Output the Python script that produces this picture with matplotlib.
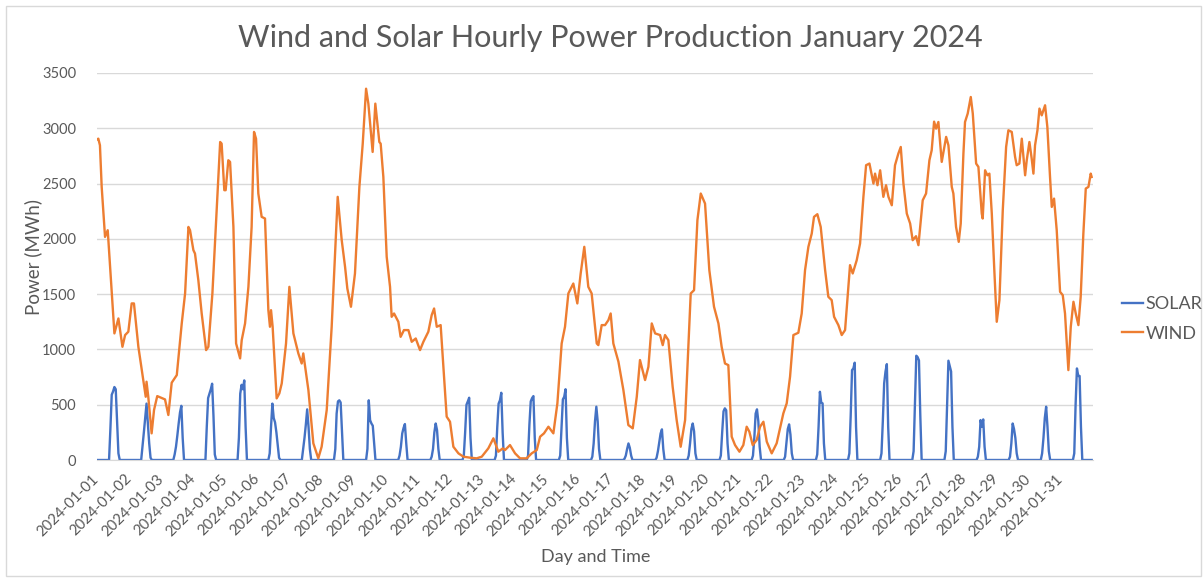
import numpy as np
import matplotlib.pyplot as plt
from matplotlib.patches import Rectangle

# tick labels, one per day
days = ["2024-01-%02d" % d for d in range(1, 32)]

# solar output per day for the hours 09..16 (other hours are zero)
solar_first_hour = 9
solar_by_day = [
    [0, 280, 590, 620, 660, 640, 350, 60],
    [0, 120, 250, 380, 510, 330, 150, 20],
    [0, 50, 120, 220, 330, 430, 490, 200],
    [0, 300, 560, 600, 640, 690, 400, 50],
    [0, 200, 600, 680, 640, 720, 300, 0],
    [60, 300, 510, 380, 340, 250, 130, 20],
    [0, 100, 200, 320, 458, 300, 100, 0],
    [0, 100, 420, 530, 540, 520, 250, 0],
    [0, 100, 540, 360, 330, 310, 150, 0],
    [0, 40, 120, 240, 290, 325, 150, 0],
    [0, 30, 100, 250, 330, 270, 100, 0],
    [0, 40, 250, 500, 530, 563, 200, 0],
    [0, 40, 300, 510, 540, 608, 250, 0],
    [0, 40, 320, 530, 560, 578, 200, 0],
    [0, 40, 300, 548, 572, 640, 200, 0],
    [0, 30, 150, 350, 482, 350, 100, 0],
    [0, 10, 40, 100, 150, 110, 40, 0],
    [0, 20, 80, 160, 240, 277, 100, 0],
    [0, 40, 150, 280, 330, 260, 60, 0],
    [0, 40, 250, 440, 467, 450, 150, 0],
    [0, 40, 200, 420, 458, 350, 120, 0],
    [0, 30, 150, 280, 322, 230, 60, 0],
    [0, 50, 300, 617, 520, 512, 150, 0],
    [0, 60, 400, 813, 828, 880, 300, 0],
    [0, 60, 350, 693, 800, 867, 300, 0],
    [0, 80, 500, 943, 930, 900, 400, 0],
    [0, 80, 500, 898, 850, 800, 300, 0],
    [0, 30, 120, 361, 301, 367, 120, 0],
    [0, 30, 150, 330, 280, 200, 60, 0],
    [0, 60, 200, 380, 482, 300, 80, 0],
    [0, 60, 500, 828, 760, 760, 300, 0],
]

wind_hour = [
    0, 1, 2.2, 3.5, 6, 8, 8.5, 13, 16, 19, 21, 23.4, 25.9, 27.6, 30.9, 34.6,
    36.4, 37, 38.3, 40.8, 42.6, 45, 50.8, 53.3, 55.8, 59.6, 61.3, 63.3, 65.8,
    68.3, 69.5, 72, 73.2, 75.7, 78.2, 81.5, 83.2, 86.2, 89.4, 92, 93.1, 95.1,
    96.1, 98.1, 99.4, 101.9, 103.9, 105.6, 106.9, 108.1, 110.6, 113.1, 115.5,
    117.3, 118.8, 120.5, 123, 125.5, 128, 129.2, 130, 131.2, 134.2, 136.2, 138,
    141.2, 143.7, 146.7, 150.4, 152.9, 154.1, 157.9, 161.6, 165.3, 167.8,
    171.6, 175.3, 177.8, 179.8, 182.8, 185.3, 187, 189.7, 192.7, 196, 198.5,
    201, 202.7, 205.9, 207.9, 210.9, 211.9, 213.9, 216.4, 218.9, 220.1, 221.9,
    225.1, 226.8, 229.3, 232.6, 235.1, 238.1, 241.3, 243.8, 247.5, 250, 251.8,
    253.8, 256.7, 261.2, 263.7, 266.2, 270, 273.7, 278.7, 283.6, 287.4, 292.3,
    296.1, 299.8, 303.1, 304.8, 308.5, 312.3, 316, 321, 324.7, 328.5, 331,
    333.9, 337.2, 340.9, 343.9, 347.1, 349.6, 352.1, 355.8, 358.8, 361.3, 364,
    367, 369.5, 373.3, 374.5, 377, 379.5, 382, 383.7, 385.7, 389.5, 393.2,
    396.9, 400.2, 403.2, 405.6, 409.4, 411.9, 414.4, 416.9, 420.6, 422.6,
    424.3, 426.8, 430, 433, 436, 439.3, 441.8, 443.5, 446, 448.5, 451, 454.2,
    457.4, 460.9, 464.2, 466.6, 469.1, 471.6, 474.1, 476.6, 479.9, 482.8,
    485.3, 487.3, 489.8, 492.8, 495.3, 497.8, 500.3, 504, 507.7, 512.7, 515.2,
    517.7, 520.2, 523.9, 526.4, 528.9, 531.4, 533.9, 535.6, 538.1, 540.6,
    543.9, 546.3, 548.8, 550.6, 553.8, 556.3, 558.8, 560.5, 562.5, 564.5,
    567.5, 570, 572.5, 574.5, 577, 580, 581.2, 583, 585, 587.4, 589.4, 591.2,
    593.7, 596.1, 598.6, 600.4, 602.4, 604.9, 607.4, 609.3, 611.8, 613.6,
    616.8, 619.3, 621.8, 623.5, 625.3, 626.8, 628.5, 631, 634.3, 636, 638.5,
    639.7, 641.7, 643.7, 645.2, 647.2, 648.4, 650.4, 652.7, 654.2, 656.7,
    658.4, 660.9, 661.6, 663.4, 665.1, 666.6, 668.4, 670.4, 672.1, 674.1,
    676.6, 679.1, 680.8, 683.3, 685.8, 687, 689, 690.8, 693.3, 694.5, 696.5,
    698.2, 699.5, 700.7, 702.5, 704, 705.7, 708.2, 709.9, 711.9, 713.2, 714.9,
    716.9, 719.4, 721.4, 723.1, 725.6, 727.4, 729.4, 731.1, 733.1, 734.8,
    736.8, 738.6, 740.6, 742.3, 743,
]
wind_mwh = [
    2900, 2906, 2846, 2470, 2018, 2078, 1988, 1145, 1280, 1024, 1130, 1160,
    1416, 1416, 1024, 723, 572, 708, 572, 241, 452, 578, 548, 407, 699, 768,
    979, 1235, 1506, 2108, 2078, 1898, 1867, 1626, 1325, 994, 1024, 1506, 2259,
    2876, 2861, 2440, 2440, 2711, 2696, 2108, 1054, 979, 919, 1084, 1235, 1566,
    2108, 2967, 2906, 2410, 2199, 2184, 1355, 1205, 1355, 1205, 557, 602, 693,
    1054, 1566, 1145, 964, 873, 964, 633, 151, 15, 120, 452, 1205, 1867, 2380,
    1988, 1747, 1551, 1386, 1687, 2470, 2861, 3358, 3223, 2786, 3223, 2876,
    2861, 2560, 1837, 1566, 1295, 1325, 1250, 1114, 1175, 1175, 1069, 1099,
    994, 1069, 1160, 1310, 1370, 1205, 1220, 392, 346, 120, 60, 30, 21, 15, 30,
    105, 196, 75, 105, 90, 135, 60, 15, 15, 60, 90, 211, 241, 301, 241, 512,
    1054, 1205, 1506, 1596, 1416, 1687, 1928, 1566, 1506, 1054, 1039, 1220,
    1220, 1265, 1325, 1054, 889, 633, 316, 286, 572, 904, 723, 843, 1235, 1145,
    1130, 1039, 1130, 1084, 663, 361, 120, 361, 1054, 1506, 1536, 2169, 2410,
    2319, 1717, 1386, 1235, 1024, 873, 858, 211, 135, 75, 135, 301, 256, 135,
    181, 301, 346, 166, 60, 151, 422, 512, 753, 1130, 1151, 1325, 1717, 1928,
    2048, 2199, 2223, 2108, 1717, 1476, 1446, 1295, 1220, 1130, 1175, 1446,
    1762, 1687, 1807, 1958, 2380, 2666, 2681, 2500, 2590, 2485, 2620, 2380,
    2485, 2380, 2304, 2666, 2771, 2831, 2500, 2229, 2139, 1988, 2024, 1943,
    2349, 2410, 2711, 2801, 3060, 2997, 3057, 2696, 2922, 2846, 2470, 2410,
    2108, 1973, 2139, 2771, 3057, 3133, 3283, 3133, 2681, 2651, 2229, 2184,
    2620, 2575, 2590, 2229, 1687, 1250, 1446, 2259, 2831, 2982, 2967, 2741,
    2666, 2681, 2906, 2575, 2711, 2876, 2726, 2590, 2846, 2982, 3178, 3117,
    3208, 3012, 2560, 2289, 2364, 2078, 1521, 1491, 1325, 813, 1205, 1431,
    1325, 1220, 1476, 2048, 2455, 2470, 2590, 2560,
]

# hourly solar series
solar = np.zeros(len(days) * 24)
for d, vals in enumerate(solar_by_day):
    start = d * 24 + solar_first_hour
    solar[start:start + len(vals)] = vals

plt.rcParams['font.family'] = ['Lato', 'DejaVu Sans']
grey = '#595959'

W, H = 1204, 579
fig = plt.figure(figsize=(W / 100, H / 100), dpi=100)
ax = fig.add_axes([97 / W, 1 - 460 / H, 996 / W, 387 / H])

ax.plot(np.arange(len(solar)), solar, color='#4472C4', lw=1.7, label='SOLAR')
ax.plot(wind_hour, wind_mwh, color='#ED7D31', lw=1.7, label='WIND')

ax.set_xlim(0, len(days) * 24)
ax.set_ylim(0, 3500)
ax.set_yticks(range(0, 3501, 500))
ax.set_xticks(np.arange(len(days)) * 24)
ax.set_xticklabels(days, rotation=45, ha='right', va='center',
                   rotation_mode='anchor')
ax.grid(axis='y', color='#d9d9d9', lw=1)
ax.set_axisbelow(True)
for s in ['top', 'right', 'left']:
    ax.spines[s].set_visible(False)
ax.spines['bottom'].set_color('#d9d9d9')
ax.tick_params(length=0, colors=grey)
ax.tick_params(axis='x', pad=12, labelsize=10.8)
ax.tick_params(axis='y', pad=15, labelsize=10.5)

fig.text(0.507, 1 - 38 / H, 'Wind and Solar Hourly Power Production January 2024',
         ha='center', va='center', fontsize=22, color=grey)
fig.text(33 / W, 1 - 257 / H, 'Power (MWh)', rotation=90, ha='center',
         va='center', fontsize=13.5, color=grey)
fig.text(596 / W, 1 - 557 / H, 'Day and Time', ha='center', va='center',
         fontsize=13, color=grey)

fig.legend(loc='center left', bbox_to_anchor=(1122 / W, 1 - 319 / H),
           frameon=False, fontsize=13, handlelength=1.15, handletextpad=0.15,
           labelspacing=0.75, labelcolor=grey, borderpad=0, borderaxespad=0)

fig.patches.append(Rectangle((6 / W, 3 / H), 1 - 9 / W, 1 - 9 / H,
                             transform=fig.transFigure, fill=False,
                             ec='#d9d9d9', lw=1))

fig.savefig('out.png', dpi=100)
